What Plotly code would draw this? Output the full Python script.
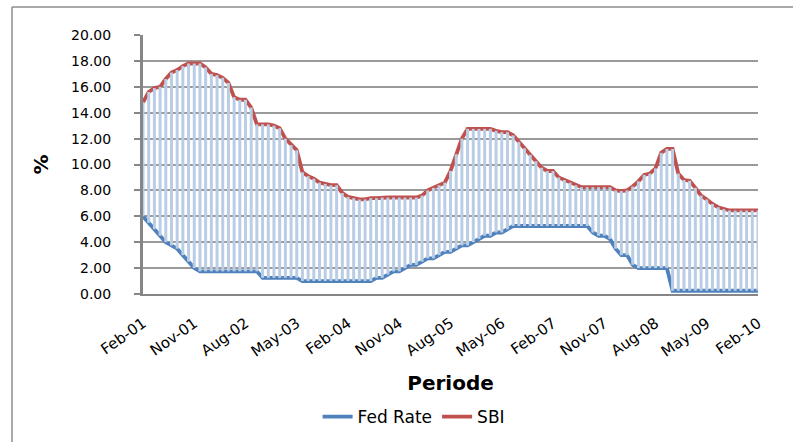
import pandas as pd
import plotly.graph_objects as go

# Monthly periods Feb-2001 .. Feb-2010
months = list(pd.date_range("2001-02-01", periods=109, freq="MS").strftime("%b-%y"))
tick_labels = months[::9]

fed_rate = [6.0, 5.5, 5.0, 4.5, 4.0, 3.75, 3.5, 3.0, 2.5, 2.0, 1.75,
            1.75, 1.75, 1.75, 1.75, 1.75, 1.75, 1.75, 1.75, 1.75, 1.75,
            1.25, 1.25, 1.25, 1.25, 1.25, 1.25, 1.25,
            1.0, 1.0, 1.0, 1.0, 1.0, 1.0, 1.0, 1.0, 1.0, 1.0, 1.0, 1.0, 1.0,
            1.25, 1.25, 1.5, 1.75, 1.75, 2.0, 2.25, 2.25, 2.5, 2.75, 2.75, 3.0, 3.25,
            3.25, 3.5, 3.75, 3.75, 4.0, 4.25, 4.5, 4.5, 4.75, 4.75, 5.0, 5.25,
            5.25, 5.25, 5.25, 5.25, 5.25, 5.25, 5.25, 5.25, 5.25, 5.25, 5.25, 5.25, 5.25,
            4.75, 4.5, 4.5, 4.25, 3.5, 3.0, 3.0, 2.25, 2.0, 2.0, 2.0, 2.0, 2.0, 2.0,
            0.25, 0.25, 0.25, 0.25, 0.25, 0.25, 0.25, 0.25, 0.25, 0.25, 0.25, 0.25,
            0.25, 0.25, 0.25, 0.25]

sbi = [14.8, 15.6, 15.9, 16.0, 16.6, 17.1, 17.3, 17.6, 17.8, 17.8, 17.8,
       17.5, 17.0, 16.9, 16.7, 16.3, 15.2, 15.0, 15.0, 14.4, 13.1,
       13.1, 13.1, 13.0, 12.8, 12.0, 11.5, 11.1, 9.4, 9.1, 8.9,
       8.6, 8.5, 8.4, 8.4, 7.8, 7.5, 7.4, 7.3, 7.3, 7.4,
       7.4, 7.45, 7.45, 7.45, 7.45, 7.45, 7.45, 7.45, 7.6, 8.0,
       8.2, 8.4, 8.6, 9.5, 10.8, 12.0, 12.75, 12.75, 12.75, 12.75,
       12.75, 12.6, 12.5, 12.5, 12.25, 11.75, 11.25, 10.75, 10.25, 9.75,
       9.5, 9.5, 9.0, 8.8, 8.6, 8.4, 8.25, 8.25, 8.25, 8.25,
       8.25, 8.25, 8.0, 7.95, 8.0, 8.3, 8.7, 9.2, 9.3, 9.7,
       10.9, 11.2, 11.2, 9.3, 8.8, 8.75, 8.2, 7.6, 7.3, 6.95,
       6.7, 6.55, 6.45, 6.45, 6.45, 6.45, 6.45, 6.45]

BLUE = "#4F81BD"
RED = "#C0504D"
HL = "#B9CDE5"
FONT = "DejaVu Sans"

hl_x, hl_y = [], []
for m, lo, hi in zip(months, fed_rate, sbi):
    hl_x += [m, m, None]
    hl_y += [lo, hi, None]

fig = go.Figure()
fig.add_trace(go.Scatter(x=months, y=fed_rate, name="Fed Rate", mode="lines",
                         line=dict(color=BLUE, width=3.8)))
fig.add_trace(go.Scatter(x=months, y=sbi, name="SBI", mode="lines",
                         line=dict(color=RED, width=3.8)))
fig.add_trace(go.Scatter(x=hl_x, y=hl_y, mode="lines", showlegend=False,
                         hoverinfo="skip", line=dict(color=HL, width=3)))

# outer chart-area border (left and top edges visible)
x_left = (12 - 143) / 615
y_top = (294 - 7) / 259
fig.add_shape(type="line", xref="paper", yref="paper", x0=x_left, x1=x_left,
              y0=-0.7, y1=y_top, line=dict(color="#8c8c8c", width=1.5))
fig.add_shape(type="line", xref="paper", yref="paper", x0=x_left, x1=1.2,
              y0=y_top, y1=y_top, line=dict(color="#8c8c8c", width=1.5))

fig.update_layout(
    width=793, height=442, autosize=False,
    margin=dict(l=143, r=35, t=35, b=148, autoexpand=False),
    paper_bgcolor="white", plot_bgcolor="white",
    font=dict(family=FONT, color="black"),
    showlegend=True,
    legend=dict(orientation="h", x=0.44, xanchor="center", y=-0.475, yanchor="middle",
                font=dict(family=FONT, size=17, color="black"), itemwidth=30,
                tracegroupgap=0),
    xaxis=dict(type="category", range=[0, 108], tickmode="array", tickvals=tick_labels,
               ticktext=tick_labels, tickangle=-35, ticks="", showgrid=False,
               showline=True, linecolor="#868686", linewidth=2,
               ticklabelstandoff=13, automargin=False,
               tickfont=dict(family=FONT, size=15, color="black"),
               title=dict(text="Periode", standoff=16,
                          font=dict(family=FONT, size=20, weight="bold", color="black"))),
    yaxis=dict(range=[0, 20], dtick=2, tickformat=".2f", showgrid=True,
               gridcolor="#9a9a9a", gridwidth=2, zeroline=False,
               showline=True, linecolor="#868686", linewidth=3,
               ticks="outside", ticklen=6, tickcolor="#868686", tickwidth=2,
               ticklabelstandoff=20, automargin=False,
               tickfont=dict(family=FONT, size=14, color="black"),
               title=dict(text="%", standoff=18,
                          font=dict(family=FONT, size=20, weight="bold", color="black"))),
)

fig.write_html("out.html", config={"displayModeBar": False},
               post_script="document.body.style.margin='0';")
